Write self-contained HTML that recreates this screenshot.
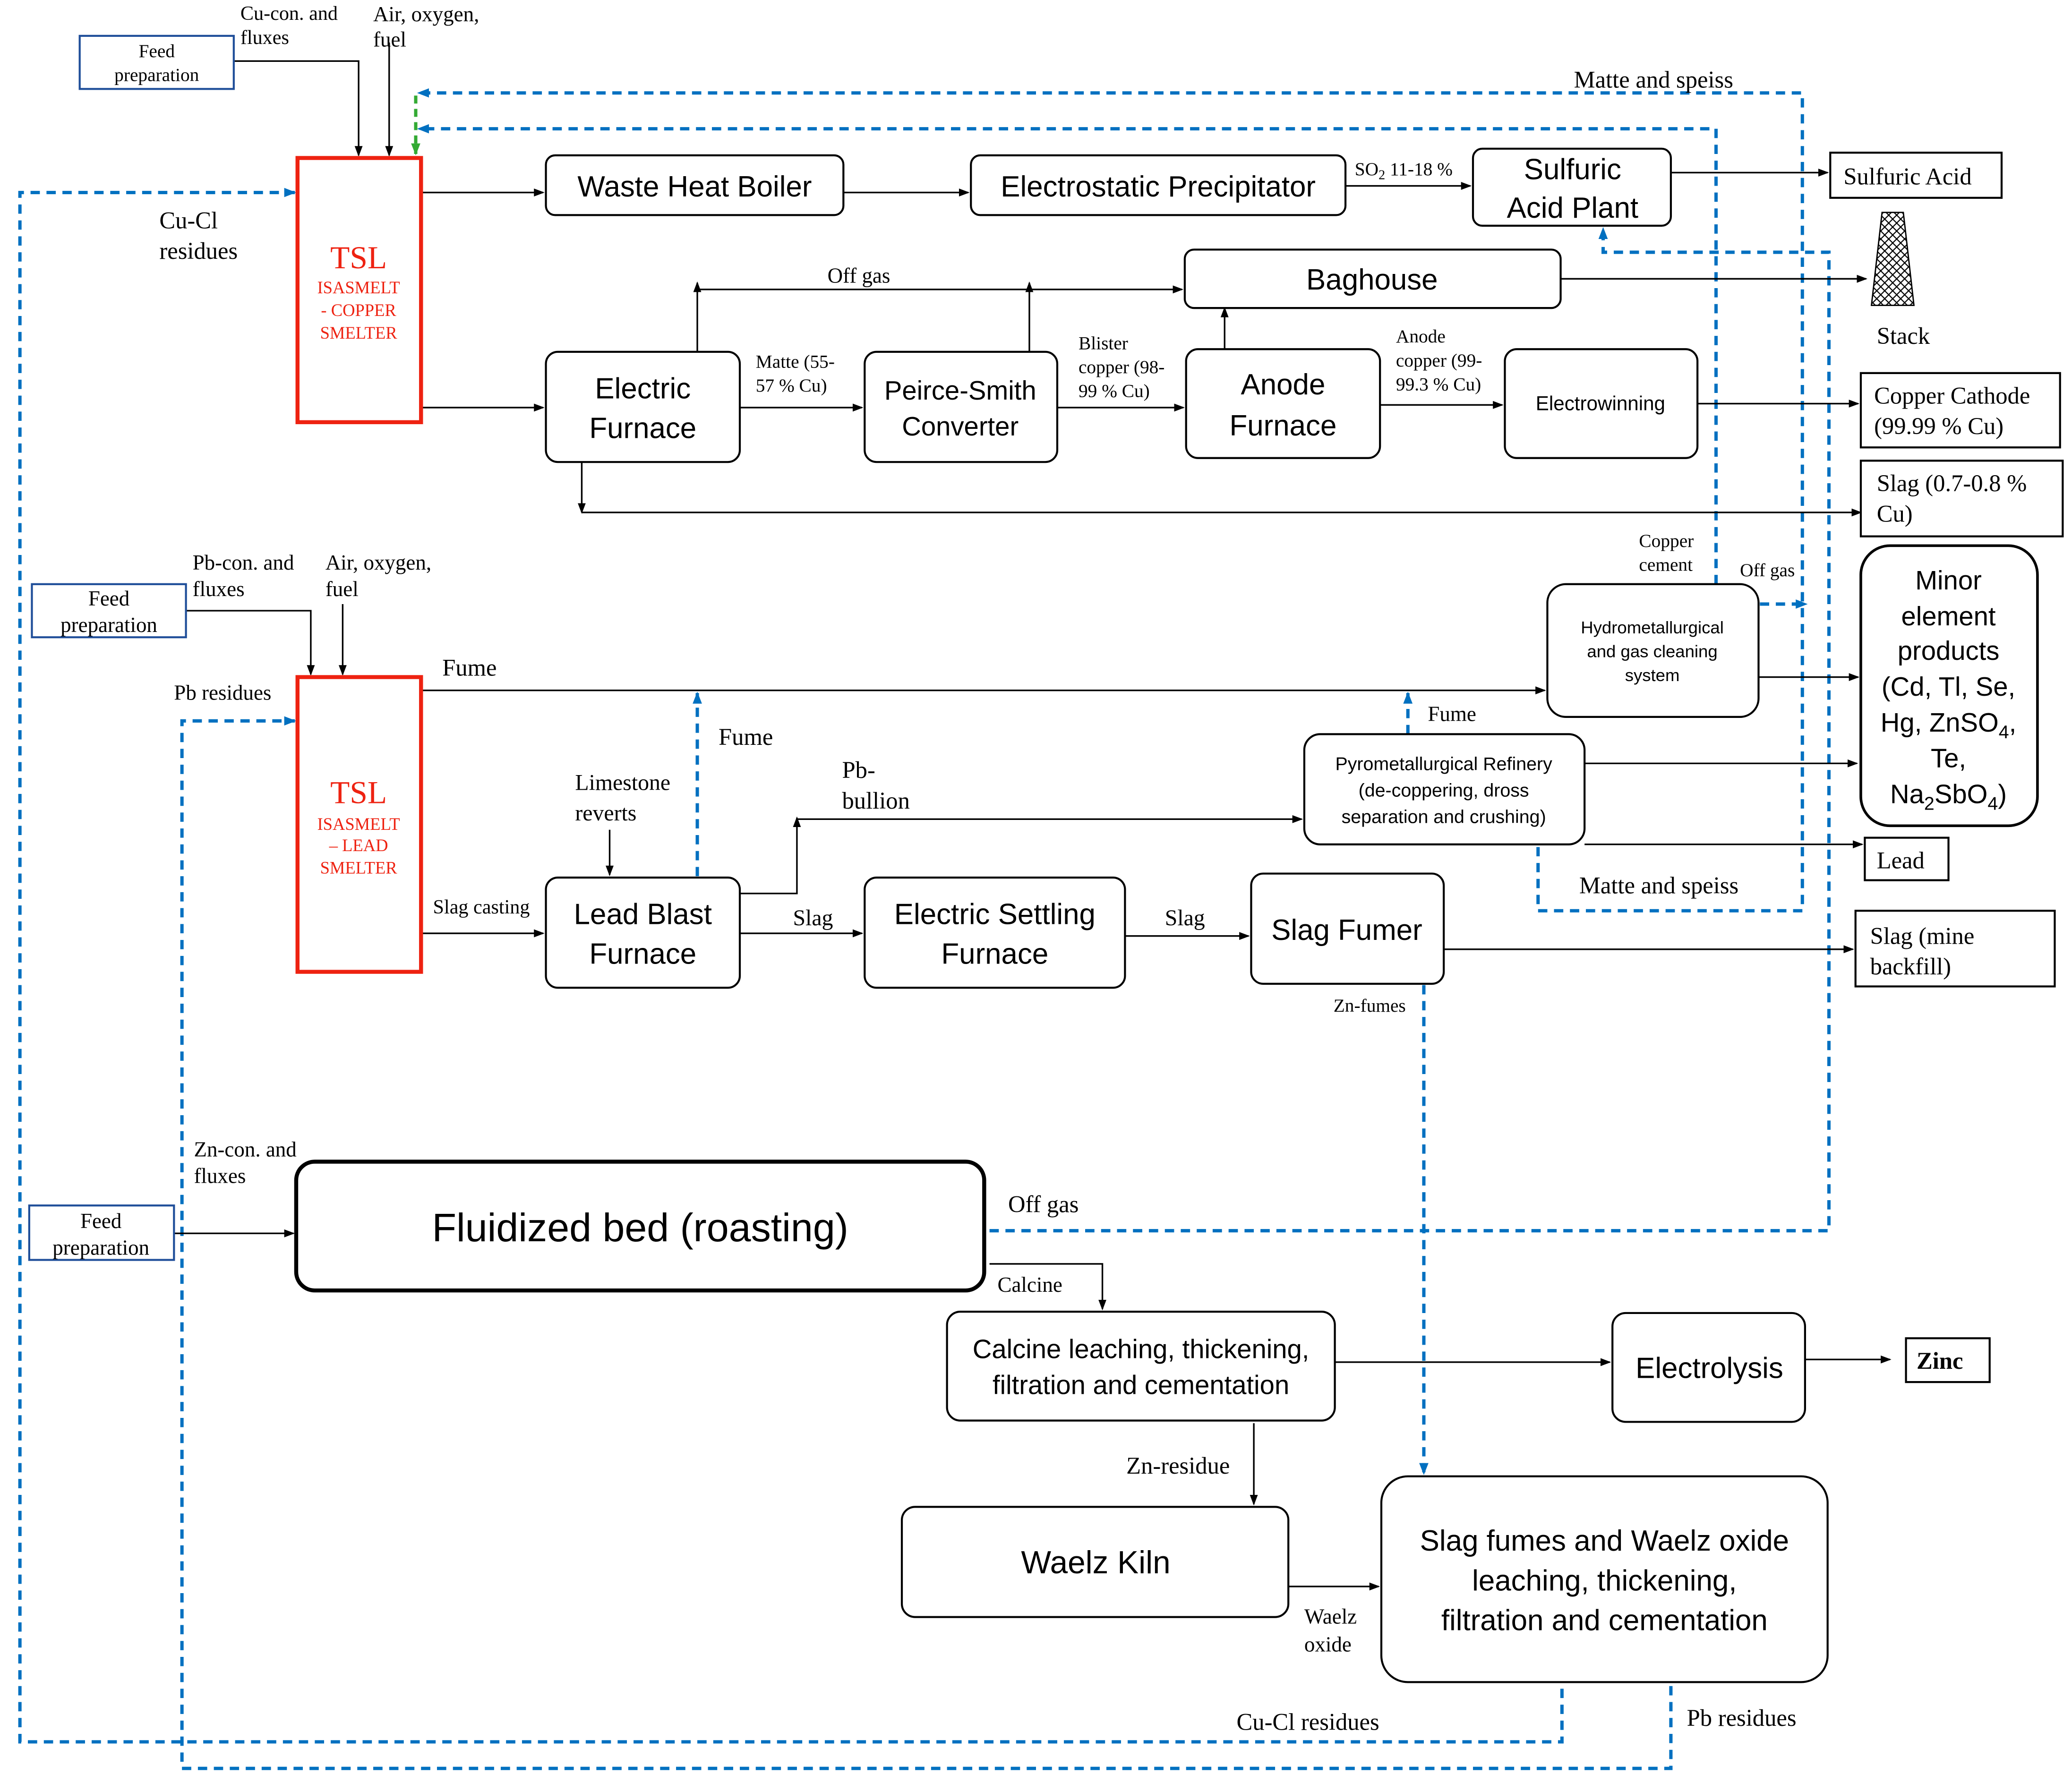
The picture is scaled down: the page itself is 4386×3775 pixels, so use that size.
<!DOCTYPE html>
<html><head><meta charset="utf-8"><style>
html,body{margin:0;padding:0;background:#fff}
svg{display:block}
.s{font-family:"Liberation Serif",serif;fill:#000}
.s:not([font-size]){font-size:16px}
.b{font-family:"Liberation Sans",sans-serif;fill:#000;text-anchor:middle}
.b:not([font-size]){font-size:22px}
.r{fill:#fff;stroke:#000}
.r:not([stroke-width]){stroke-width:1.5px}
.l{stroke:#000;stroke-width:1.2;fill:none}
.d{stroke:#0070C0;stroke-width:2.5;fill:none;stroke-dasharray:7,5}
</style></head><body>
<svg width="4386" height="3775" viewBox="0 0 1560 1343" preserveAspectRatio="none" xmlns="http://www.w3.org/2000/svg">
<defs>
<marker id="a" markerWidth="8" markerHeight="8" refX="7" refY="4" orient="auto" markerUnits="userSpaceOnUse"><path d="M0,1 L8,4 L0,7z" fill="#000"/></marker>
<marker id="c" markerWidth="9" markerHeight="9" refX="8" refY="4.5" orient="auto" markerUnits="userSpaceOnUse"><path d="M0,1 L9,4.5 L0,8z" fill="#0070C0"/></marker>
<marker id="g" markerWidth="9" markerHeight="9" refX="8" refY="4.5" orient="auto" markerUnits="userSpaceOnUse"><path d="M0,1 L9,4.5 L0,8z" fill="#3a3"/></marker>
<pattern id="h" width="6" height="6" patternUnits="userSpaceOnUse"><path d="M0,0 L6,6 M6,0 L0,6" stroke="#000" stroke-width="0.8"/></pattern>
</defs>
<rect width="1560" height="1343" fill="#fff"/>

<!-- blue dashed loops -->
<path class="d" d="M1176,1272 V1312 H15 V145 H222" marker-end="url(#c)"/>
<path class="d" d="M1258,1270 V1332 H137 V543 H222" marker-end="url(#c)"/>
<path class="d" d="M1158,638 V686 H1357 V70 H315" marker-end="url(#c)"/>
<path class="d" d="M1292,440 V97 H315" marker-end="url(#c)"/>
<path class="d" d="M1325,455 H1360" marker-end="url(#c)"/>
<path class="d" d="M745,927 H1377 V190 H1207 V172" marker-end="url(#c)"/>
<path class="d" d="M1072,742 V1110" marker-end="url(#c)"/>
<path class="d" d="M525,660 V522" marker-end="url(#c)"/>
<path class="d" d="M1060,553 V522" marker-end="url(#c)"/>
<path d="M313,72 V116" stroke="#3a3" stroke-width="2.5" stroke-dasharray="6,4" marker-end="url(#g)"/>

<!-- black arrows -->
<path class="l" d="M176,46 H270 V117" marker-end="url(#a)"/>
<path class="l" d="M293,32 V117" marker-end="url(#a)"/>
<path class="l" d="M317,145 H409" marker-end="url(#a)"/>
<path class="l" d="M635,145 H729" marker-end="url(#a)"/>
<path class="l" d="M1013,140 H1107" marker-end="url(#a)"/>
<path class="l" d="M1258,130 H1376" marker-end="url(#a)"/>
<path class="l" d="M317,307 H409" marker-end="url(#a)"/>
<path class="l" d="M525,265 V213" marker-end="url(#a)"/>
<path class="l" d="M525,218 H890" marker-end="url(#a)"/>
<path class="l" d="M775,265 V213" marker-end="url(#a)"/>
<path class="l" d="M922,263 V232" marker-end="url(#a)"/>
<path class="l" d="M557,307 H649" marker-end="url(#a)"/>
<path class="l" d="M796,307 H891" marker-end="url(#a)"/>
<path class="l" d="M1039,305 H1131" marker-end="url(#a)"/>
<path class="l" d="M1278,304 H1399" marker-end="url(#a)"/>
<path class="l" d="M1175,210 H1405" marker-end="url(#a)"/>
<path class="l" d="M438,348 V386" marker-end="url(#a)"/>
<path class="l" d="M438,386 H1401" marker-end="url(#a)"/>
<path class="l" d="M140,460 H234 V508" marker-end="url(#a)"/>
<path class="l" d="M258,455 V508" marker-end="url(#a)"/>
<path class="l" d="M317,520 H1163" marker-end="url(#a)"/>
<path class="l" d="M459,625 V659" marker-end="url(#a)"/>
<path class="l" d="M317,703 H409" marker-end="url(#a)"/>
<path class="l" d="M557,673 H600 V616" marker-end="url(#a)"/>
<path class="l" d="M600,617 H980" marker-end="url(#a)"/>
<path class="l" d="M557,703 H649" marker-end="url(#a)"/>
<path class="l" d="M847,705 H940" marker-end="url(#a)"/>
<path class="l" d="M1087,715 H1395" marker-end="url(#a)"/>
<path class="l" d="M1193,575 H1398" marker-end="url(#a)"/>
<path class="l" d="M1193,636 H1402" marker-end="url(#a)"/>
<path class="l" d="M1324,510 H1399" marker-end="url(#a)"/>
<path class="l" d="M131,929 H221" marker-end="url(#a)"/>
<path class="l" d="M745,952 H830 V986" marker-end="url(#a)"/>
<path class="l" d="M1005,1026 H1212" marker-end="url(#a)"/>
<path class="l" d="M1359,1024 H1423" marker-end="url(#a)"/>
<path class="l" d="M944,1072 V1133" marker-end="url(#a)"/>
<path class="l" d="M970,1195 H1038" marker-end="url(#a)"/>

<!-- feed prep boxes -->
<rect x="60" y="27" width="116" height="40" fill="#fff" stroke="#1F4E99" stroke-width="1.5"/>
<text class="s" x="118" y="43" text-anchor="middle" font-size="14">Feed</text><text class="s" x="118" y="61" text-anchor="middle" font-size="14">preparation</text>
<rect x="24" y="440" width="116" height="40" fill="#fff" stroke="#1F4E99" stroke-width="1.5"/>
<text class="s" x="82" y="456" text-anchor="middle">Feed</text><text class="s" x="82" y="476" text-anchor="middle">preparation</text>
<rect x="22" y="908" width="109" height="41" fill="#fff" stroke="#1F4E99" stroke-width="1.5"/>
<text class="s" x="76" y="925" text-anchor="middle">Feed</text><text class="s" x="76" y="945" text-anchor="middle">preparation</text>

<!-- TSL -->
<rect x="224" y="119" width="93" height="199" fill="#fff" stroke="#e21" stroke-width="3"/>
<text x="270" y="202" text-anchor="middle" font-family="Liberation Serif,serif" font-size="24" fill="#e21">TSL</text>
<text x="270" y="221" text-anchor="middle" font-family="Liberation Serif,serif" font-size="13" fill="#e21">ISASMELT</text>
<text x="270" y="238" text-anchor="middle" font-family="Liberation Serif,serif" font-size="13" fill="#e21">- COPPER</text>
<text x="270" y="255" text-anchor="middle" font-family="Liberation Serif,serif" font-size="13" fill="#e21">SMELTER</text>
<rect x="224" y="510" width="93" height="222" fill="#fff" stroke="#e21" stroke-width="3"/>
<text x="270" y="605" text-anchor="middle" font-family="Liberation Serif,serif" font-size="24" fill="#e21">TSL</text>
<text x="270" y="625" text-anchor="middle" font-family="Liberation Serif,serif" font-size="13" fill="#e21">ISASMELT</text>
<text x="270" y="641" text-anchor="middle" font-family="Liberation Serif,serif" font-size="13" fill="#e21">– LEAD</text>
<text x="270" y="658" text-anchor="middle" font-family="Liberation Serif,serif" font-size="13" fill="#e21">SMELTER</text>

<!-- process boxes -->
<rect class="r" x="411" y="117" width="224" height="45" rx="7"/><text class="b" x="523" y="148">Waste Heat Boiler</text>
<rect class="r" x="731" y="117" width="282" height="45" rx="7"/><text class="b" x="872" y="148">Electrostatic Precipitator</text>
<rect class="r" x="1109" y="112" width="149" height="58" rx="7"/><text class="b" x="1184" y="135">Sulfuric</text><text class="b" x="1184" y="164">Acid Plant</text>
<rect x="1378" y="115" width="129" height="34" fill="#fff" stroke="#000" stroke-width="1.5"/><text class="s" x="1388" y="139" font-size="18">Sulfuric Acid</text>
<path d="M1417,160 L1433,160 L1441,230 L1409,230z" fill="url(#h)" stroke="#000"/>
<text class="s" x="1433" y="259" text-anchor="middle" font-size="18">Stack</text>
<rect class="r" x="892" y="188" width="283" height="44" rx="7"/><text class="b" x="1033" y="218">Baghouse</text>
<rect class="r" x="411" y="265" width="146" height="83" rx="9"/><text class="b" x="484" y="300">Electric</text><text class="b" x="484" y="330">Furnace</text>
<rect class="r" x="651" y="265" width="145" height="83" rx="9"/><text class="b" x="723" y="301" font-size="20">Peirce-Smith</text><text class="b" x="723" y="328" font-size="20">Converter</text>
<rect class="r" x="893" y="263" width="146" height="82" rx="9"/><text class="b" x="966" y="297">Anode</text><text class="b" x="966" y="328">Furnace</text>
<rect class="r" x="1133" y="263" width="145" height="82" rx="9"/><text class="b" x="1205" y="309" font-size="15">Electrowinning</text>
<rect x="1401" y="281" width="150" height="56" fill="#fff" stroke="#000" stroke-width="1.5"/><text class="s" x="1411" y="304" font-size="18">Copper Cathode</text><text class="s" x="1411" y="327" font-size="18">(99.99 % Cu)</text>
<rect x="1401" y="347" width="152" height="57" fill="#fff" stroke="#000" stroke-width="1.5"/><text class="s" x="1413" y="370" font-size="18">Slag (0.7-0.8 %</text><text class="s" x="1413" y="393" font-size="18">Cu)</text>
<rect class="r" x="1401" y="411" width="133" height="211" rx="22" stroke-width="2"/>
<text class="b" x="1467" y="444" font-size="20">Minor</text><text class="b" x="1467" y="471" font-size="20">element</text><text class="b" x="1467" y="497" font-size="20">products</text><text class="b" x="1467" y="524" font-size="20">(Cd, Tl, Se,</text><text class="b" x="1467" y="551" font-size="20">Hg, ZnSO<tspan font-size="14" dy="5">4</tspan><tspan dy="-5">,</tspan></text><text class="b" x="1467" y="578" font-size="20">Te,</text><text class="b" x="1467" y="605" font-size="20">Na<tspan font-size="14" dy="5">2</tspan><tspan dy="-5">SbO</tspan><tspan font-size="14" dy="5">4</tspan><tspan dy="-5">)</tspan></text>
<rect class="r" x="1165" y="440" width="159" height="100" rx="14"/><text class="b" x="1244" y="477" font-size="13">Hydrometallurgical</text><text class="b" x="1244" y="495" font-size="13">and gas cleaning</text><text class="b" x="1244" y="513" font-size="13">system</text>
<rect class="r" x="982" y="553" width="211" height="83" rx="12"/><text class="b" x="1087" y="580" font-size="14">Pyrometallurgical Refinery</text><text class="b" x="1087" y="600" font-size="14">(de-coppering, dross</text><text class="b" x="1087" y="620" font-size="14">separation and crushing)</text>
<rect x="1404" y="631" width="63" height="32" fill="#fff" stroke="#000" stroke-width="1.5"/><text class="s" x="1413" y="654" font-size="18">Lead</text>
<rect x="1397" y="686" width="150" height="57" fill="#fff" stroke="#000" stroke-width="1.5"/><text class="s" x="1408" y="711" font-size="18">Slag (mine</text><text class="s" x="1408" y="734" font-size="18">backfill)</text>
<rect class="r" x="411" y="661" width="146" height="83" rx="9"/><text class="b" x="484" y="696">Lead Blast</text><text class="b" x="484" y="726">Furnace</text>
<rect class="r" x="651" y="661" width="196" height="83" rx="9"/><text class="b" x="749" y="696">Electric Settling</text><text class="b" x="749" y="726">Furnace</text>
<rect class="r" x="942" y="658" width="145" height="83" rx="9"/><text class="b" x="1014" y="708">Slag Fumer</text>
<rect class="r" x="223" y="875" width="518" height="97" rx="14" stroke-width="3"/><text class="b" x="482" y="935" font-size="30">Fluidized bed (roasting)</text>
<rect class="r" x="713" y="988" width="292" height="82" rx="10"/><text class="b" x="859" y="1023" font-size="20">Calcine leaching, thickening,</text><text class="b" x="859" y="1050" font-size="20">filtration and cementation</text>
<rect class="r" x="1214" y="989" width="145" height="82" rx="10"/><text class="b" x="1287" y="1038">Electrolysis</text>
<rect x="1435" y="1008" width="63" height="33" fill="#fff" stroke="#000" stroke-width="1.5"/><text class="s" x="1443" y="1031" font-size="18" font-weight="bold">Zinc</text>
<rect class="r" x="679" y="1135" width="291" height="83" rx="10"/><text class="b" x="825" y="1185" font-size="24">Waelz Kiln</text>
<rect class="r" x="1040" y="1112" width="336" height="155" rx="20"/><text class="b" x="1208" y="1168">Slag fumes and Waelz oxide</text><text class="b" x="1208" y="1198">leaching, thickening,</text><text class="b" x="1208" y="1228">filtration and cementation</text>

<!-- labels -->
<text class="s" x="181" y="15" font-size="15">Cu-con. and</text><text class="s" x="181" y="33" font-size="15">fluxes</text>
<text class="s" x="281" y="16">Air, oxygen,</text><text class="s" x="281" y="35">fuel</text>
<text class="s" x="1185" y="66" font-size="18">Matte and speiss</text>
<text class="s" x="120" y="172" font-size="18">Cu-Cl</text><text class="s" x="120" y="195" font-size="18">residues</text>
<text class="s" x="1020" y="132" font-size="14">SO<tspan font-size="10" dy="3">2</tspan><tspan dy="-3"> 11-18 %</tspan></text>
<text class="s" x="623" y="213">Off gas</text>
<text class="s" x="569" y="277" font-size="14">Matte (55-</text><text class="s" x="569" y="295" font-size="14">57 % Cu)</text>
<text class="s" x="812" y="263" font-size="14">Blister</text><text class="s" x="812" y="281" font-size="14">copper (98-</text><text class="s" x="812" y="299" font-size="14">99 % Cu)</text>
<text class="s" x="1051" y="258" font-size="14">Anode</text><text class="s" x="1051" y="276" font-size="14">copper (99-</text><text class="s" x="1051" y="294" font-size="14">99.3 % Cu)</text>
<text class="s" x="1234" y="412" font-size="14">Copper</text><text class="s" x="1234" y="430" font-size="14">cement</text>
<text class="s" x="1310" y="434" font-size="14">Off gas</text>
<text class="s" x="145" y="429">Pb-con. and</text><text class="s" x="145" y="449">fluxes</text>
<text class="s" x="245" y="429">Air, oxygen,</text><text class="s" x="245" y="449">fuel</text>
<text class="s" x="333" y="509" font-size="18">Fume</text>
<text class="s" x="131" y="527">Pb residues</text>
<text class="s" x="1075" y="543">Fume</text>
<text class="s" x="541" y="561" font-size="18">Fume</text>
<text class="s" x="433" y="595" font-size="17">Limestone</text><text class="s" x="433" y="618" font-size="17">reverts</text>
<text class="s" x="634" y="586" font-size="18">Pb-</text><text class="s" x="634" y="609" font-size="18">bullion</text>
<text class="s" x="1189" y="673" font-size="18">Matte and speiss</text>
<text class="s" x="326" y="688" font-size="15">Slag casting</text>
<text class="s" x="597" y="697" font-size="17">Slag</text>
<text class="s" x="877" y="697" font-size="17">Slag</text>
<text class="s" x="1004" y="762" font-size="14">Zn-fumes</text>
<text class="s" x="146" y="871">Zn-con. and</text><text class="s" x="146" y="891">fluxes</text>
<text class="s" x="759" y="913" font-size="18">Off gas</text>
<text class="s" x="751" y="973">Calcine</text>
<text class="s" x="848" y="1110" font-size="18">Zn-residue</text>
<text class="s" x="982" y="1223">Waelz</text><text class="s" x="982" y="1244">oxide</text>
<text class="s" x="931" y="1303" font-size="18">Cu-Cl residues</text>
<text class="s" x="1270" y="1300" font-size="18">Pb residues</text>
</svg>
</body></html>
